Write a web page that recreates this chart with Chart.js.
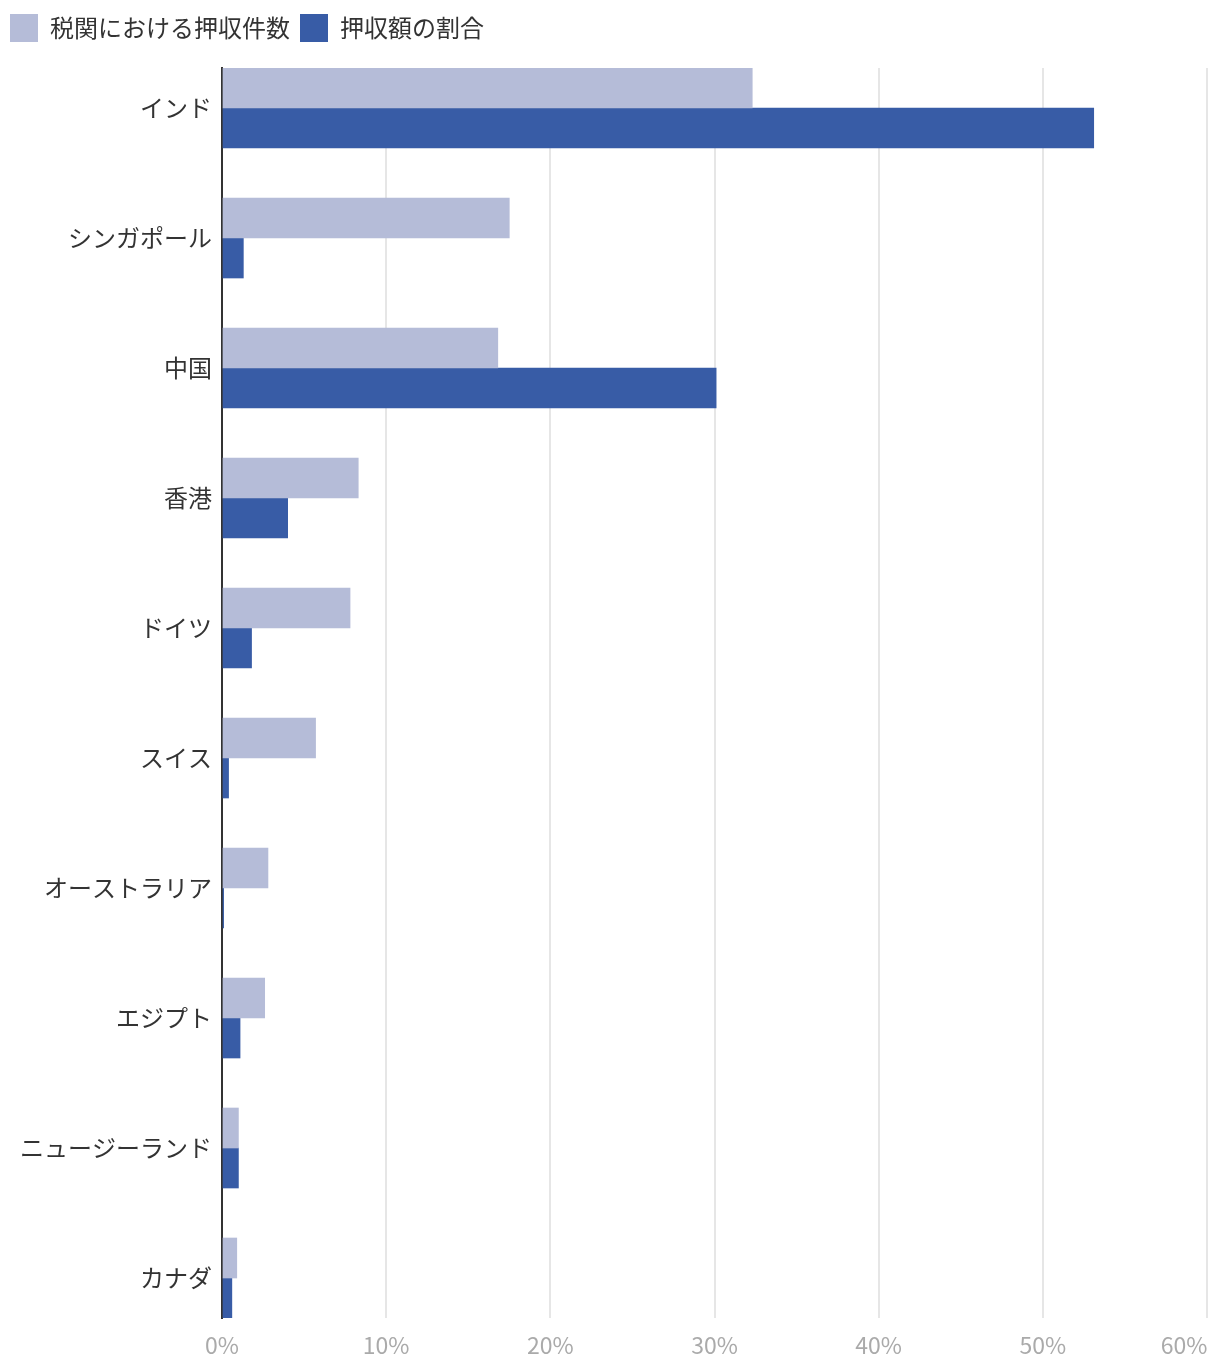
<!DOCTYPE html>
<html lang="ja">
<head>
<meta charset="utf-8">
<script src="https://cdn.jsdelivr.net/npm/chart.js@4"></script>
<style>
  body { margin: 0; background: #fff; }
  #wrap { width: 1220px; height: 1368px; }
</style>
</head>
<body>
<div id="wrap"><canvas id="chart"></canvas></div>
<script>
// 国・地域
const countries = ["インド", "シンガポール", "中国", "香港", "ドイツ", "スイス", "オーストラリア", "エジプト", "ニュージーランド", "カナダ"];
// 税関における押収件数 (%)
const seizureCount = [32.3, 17.5, 16.8, 8.3, 7.8, 5.7, 2.8, 2.6, 1.0, 0.9];
// 押収額の割合 (%)
const seizureValue = [53.1, 1.3, 30.1, 4.0, 1.8, 0.4, 0.1, 1.1, 1.0, 0.6];
// x軸の目盛り
const xTicks = [0, 10, 20, 30, 40, 50, 60];

const FONT = "'Noto Sans CJK JP', 'Noto Sans', sans-serif";

// 凡例の高さを少し広げる
const legendPad = {
  id: "legendPad",
  beforeInit(chart) {
    const origFit = chart.legend.fit;
    chart.legend.fit = function () {
      origFit.bind(chart.legend)();
      this.height += 16;
    };
  },
};

new Chart(document.getElementById("chart"), {
  type: "bar",
  data: {
    labels: countries,
    datasets: [
      { label: "税関における押収件数", data: seizureCount, backgroundColor: "#b5bcd8", barThickness: 40 },
      { label: "押収額の割合", data: seizureValue, backgroundColor: "#385ca6", barThickness: 40 },
    ],
  },
  options: {
    indexAxis: "y",
    responsive: true,
    maintainAspectRatio: false,
    animation: false,
    layout: { padding: { top: 4, right: 0, left: 0, bottom: 0 } },
    plugins: {
      legend: {
        position: "top",
        align: "start",
        labels: {
          boxWidth: 28,
          boxHeight: 28,
          padding: 10,
          color: "#333",
          font: { family: FONT, size: 24 },
        },
      },
      tooltip: { enabled: false },
    },
    scales: {
      x: {
        min: 0,
        max: 60,
        afterBuildTicks: (scale) => {
          scale.ticks = xTicks.map((v) => ({ value: v }));
        },
        afterFit: (scale) => {
          scale.height = 50;
          scale.paddingRight = 13;
          scale.paddingLeft = 0;
        },
        grid: { color: "#e6e6e6", lineWidth: 2, drawTicks: false },
        border: { display: false },
        ticks: {
          color: "#aaa",
          padding: 13,
          maxRotation: 0,
          font: { family: FONT, size: 23 },
          callback: (v) => (v === 60 ? v + "%\u3000\u3000" : v + "%"),
        },
      },
      y: {
        // カテゴリの間隔を130pxに、最初と最後のバーが端に接するように調整
        afterBuildTicks: (scale) => {
          scale._startValue = -40 / 130;
          scale._valueRange = 1250 / 130;
        },
        afterFit: (scale) => {
          scale.width = 222;
        },
        grid: { display: false, drawTicks: false },
        border: { display: true, color: "#333", width: 2 },
        ticks: {
          color: "#333",
          padding: 10,
          font: { family: FONT, size: 24 },
        },
      },
    },
  },
  plugins: [legendPad],
});
</script>
</body>
</html>
